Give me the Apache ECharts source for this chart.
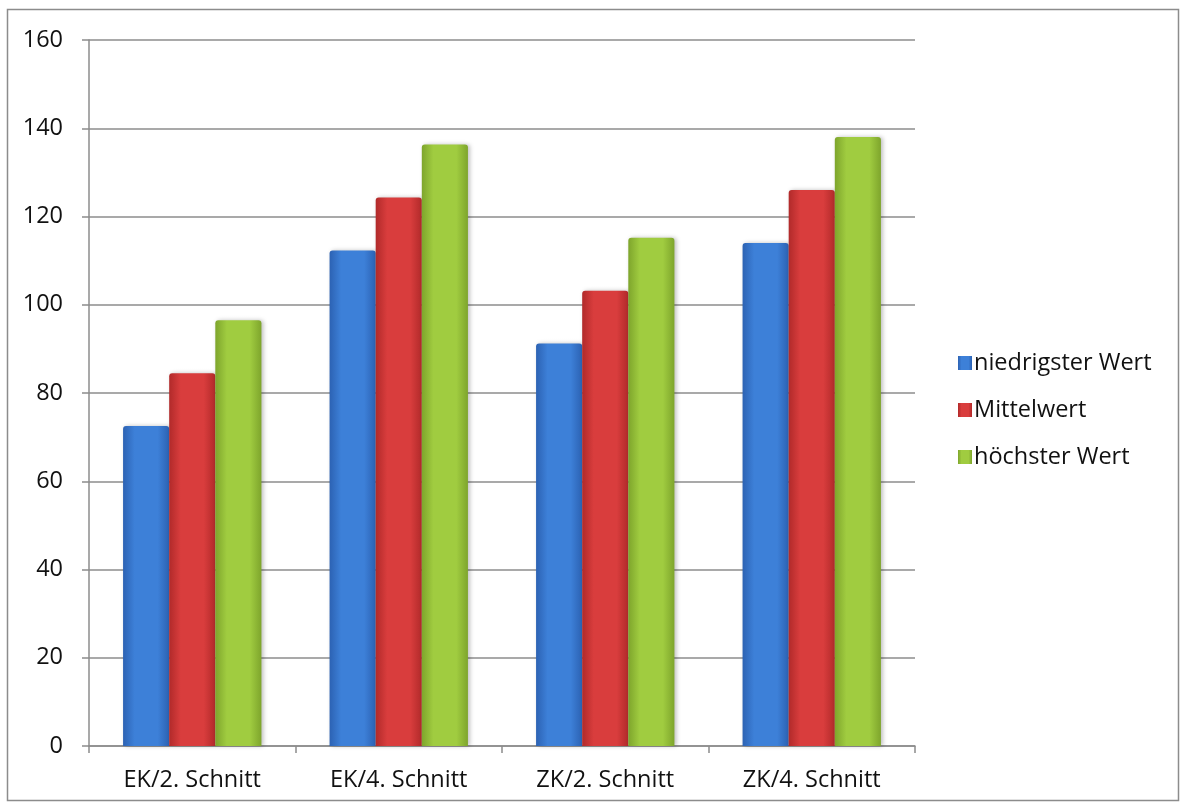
<!DOCTYPE html>
<html>
<head>
<meta charset="utf-8">
<script src="https://cdn.jsdelivr.net/npm/echarts@6/dist/echarts.min.js"></script>
<style>
  html, body { margin: 0; padding: 0; background: #fff; }
  #chart { width: 1191px; height: 805px; }
</style>
</head>
<body>
<div id="chart"></div>
<script>
// Groups along the x axis
const categories = ['EK/2. Schnitt', 'EK/4. Schnitt', 'ZK/2. Schnitt', 'ZK/4. Schnitt'];
// Series values
const niedrigsterWert = [72.5, 112.3, 91.2, 114.0];
const mittelwert = [84.5, 124.3, 103.2, 126.0];
const hoechsterWert = [96.5, 136.3, 115.2, 138.0];
// Value axis
const yTicks = [0, 20, 40, 60, 80, 100, 120, 140, 160];

const FONT = 'Open Sans, Liberation Sans, sans-serif';
const FONT_SIZE = 23.5;

function barGradient(edge, mid) {
  return new echarts.graphic.LinearGradient(0, 0, 1, 0, [
    { offset: 0, color: edge },
    { offset: 0.25, color: mid },
    { offset: 0.75, color: mid },
    { offset: 1, color: edge }
  ]);
}

const palette = {
  blue: { edge: '#2c62b3', mid: '#3d80d8', solid: '#3a78cf' },
  red: { edge: '#b12a2a', mid: '#d93d3d', solid: '#cf3636' },
  green: { edge: '#7ea52c', mid: '#a0cc40', solid: '#96c23a' }
};

function makeSeries(name, data, c) {
  return {
    name: name,
    type: 'bar',
    data: data,
    barGap: '0%',
    barCategoryGap: '33%',
    itemStyle: {
      color: barGradient(c.edge, c.mid),
      borderRadius: [3, 3, 0, 0],
      shadowColor: 'rgba(0,0,0,0.25)',
      shadowBlur: 4,
      shadowOffsetX: 2
    }
  };
}

const chart = echarts.init(document.getElementById('chart'), null, { renderer: 'canvas' });
chart.setOption({
  animation: false,
  backgroundColor: '#fff',
  color: [palette.blue.solid, palette.red.solid, palette.green.solid],
  graphic: [{
    type: 'rect',
    shape: { x: 7.5, y: 9.5, width: 1171, height: 791 },
    style: { fill: 'none', stroke: '#8c8c8c', lineWidth: 1.5 },
    silent: true
  }],
  grid: { left: 89, right: 276, top: 40, bottom: 59 },
  legend: {
    orient: 'vertical',
    left: 953,
    top: 346,
    itemWidth: 14,
    itemHeight: 14,
    itemGap: 23,
    icon: 'rect',
    textStyle: { fontFamily: FONT, fontSize: FONT_SIZE, color: '#111', padding: [0, 0, 0, -3] },
    data: ['niedrigster Wert', 'Mittelwert', 'höchster Wert']
  },
  xAxis: {
    type: 'category',
    data: categories,
    axisLine: { lineStyle: { color: '#8c8c8c', width: 1.5 } },
    axisTick: { show: true, alignWithLabel: false, length: 7, lineStyle: { color: '#8c8c8c', width: 1.5 } },
    axisLabel: { fontFamily: FONT, fontSize: FONT_SIZE, color: '#111', margin: 22 }
  },
  yAxis: {
    type: 'value',
    min: yTicks[0],
    max: yTicks[yTicks.length - 1],
    interval: 20,
    axisLine: { show: true, lineStyle: { color: '#8c8c8c', width: 1.5 } },
    axisTick: { show: true, length: 7, lineStyle: { color: '#8c8c8c', width: 1.5 } },
    axisLabel: { fontFamily: FONT, fontSize: FONT_SIZE, color: '#111', margin: 26 },
    splitLine: { lineStyle: { color: '#8c8c8c', width: 1.5 } }
  },
  series: [
    makeSeries('niedrigster Wert', niedrigsterWert, palette.blue),
    makeSeries('Mittelwert', mittelwert, palette.red),
    makeSeries('höchster Wert', hoechsterWert, palette.green)
  ]
});
</script>
</body>
</html>
